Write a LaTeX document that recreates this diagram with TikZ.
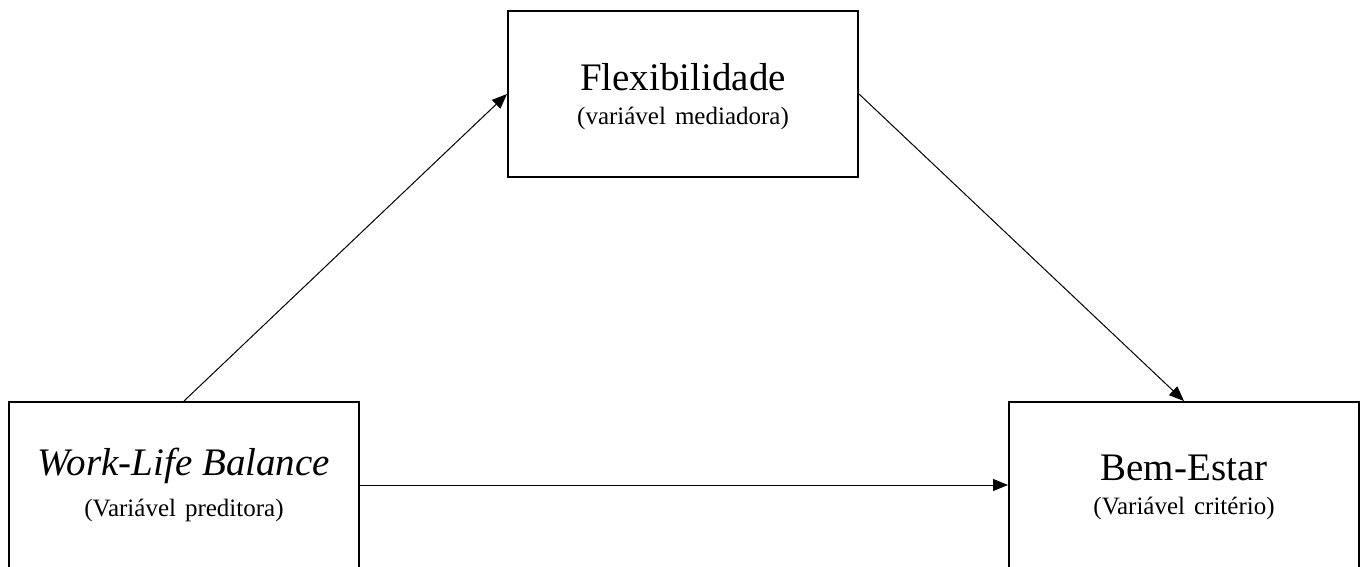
\documentclass[tikz,border=0pt]{standalone}
\usepackage{fontspec}
\setmainfont{Liberation Serif}
\usetikzlibrary{arrows.meta}

\begin{document}
\begin{tikzpicture}[x=1pt, y=-1pt,
  every node/.style = {shape=rectangle, draw, line width=2pt, align=center,
    minimum width=350pt, minimum height=166pt, inner sep=0pt,
    font=\fontsize{25}{34}\selectfont}]

  \useasboundingbox (0,0) rectangle (1366,566);
  \clip (0,0) rectangle (1366,566);

  \node[text depth=-5.5pt] (flex) at (683,94) {{\fontsize{39}{34}\selectfont Flexibilidade}\\(variável\hspace{9pt}mediadora)};
  \node (wlb) at (184,485) {{\fontsize{39}{34}\selectfont\itshape Work-Life Balance}\\[7pt](Variável\hspace{9pt}preditora)};
  \node[text depth=-6.5pt] (bem) at (1184,485) {{\fontsize{39}{34}\selectfont Bem-Estar}\\(Variável\hspace{9pt}critério)};

  \draw[line width=1pt, -{Triangle[length=15pt, width=12pt]}] (wlb.north) -- (flex.west);
  \draw[line width=1pt, -{Triangle[length=15pt, width=12pt]}] (flex.east) -- (bem.north);
  \draw[line width=1pt, -{Triangle[length=15pt, width=12pt]}] (wlb.east) -- (bem.west);
\end{tikzpicture}
\end{document}
